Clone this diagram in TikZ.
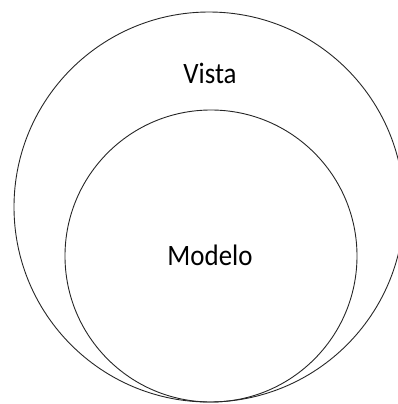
\documentclass[tikz,border=0pt]{standalone}
\usepackage{fontspec}
\setmainfont{Carlito}
\begin{document}
\begin{tikzpicture}[x=1bp,y=-1bp,
  ring/.style={draw=black!85, line width=0.9bp},
  label/.style={anchor=base, font=\fontsize{27}{30}\selectfont, yscale=1.1}]
\useasboundingbox (0,0) rectangle (398,404);
\clip (0,0) rectangle (398,404);
% outer layer and nested inner layer, touching at the bottom
\node[ring, circle, minimum size=390bp, inner sep=0pt] (vista) at (209,207) {};
\node[ring, circle, minimum size=292bp, inner sep=0pt] (modelo) at (211,256) {};
\node[label] (vistalbl) at (210,83) {Vista};
\node[label] (modelolbl) at (210,265) {Modelo};
\end{tikzpicture}
\end{document}
